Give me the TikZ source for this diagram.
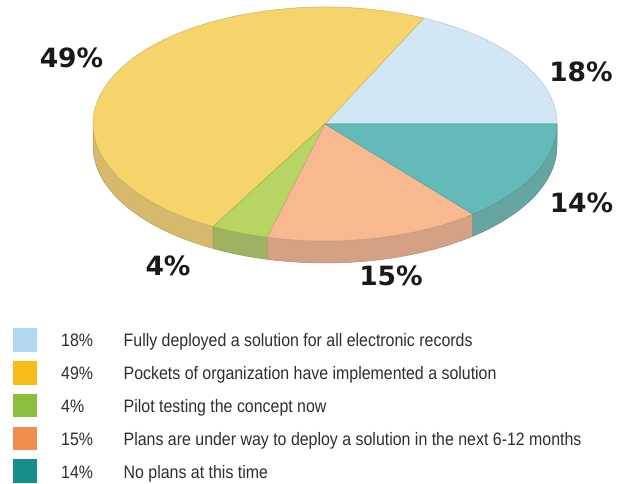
\documentclass[tikz,border=0pt]{standalone}
\usepackage{fontspec}
\usepackage{tikz}
\usetikzlibrary{calc}
\usetikzlibrary{positioning}
\newfontfamily\pctfont{DejaVu Sans}
\newfontfamily\legfont[FakeStretch=0.885]{Liberation Sans}
\definecolor{topblue}{HTML}{D2E7F6}
\definecolor{topyellow}{HTML}{F6D46C}
\definecolor{topgreen}{HTML}{B8D463}
\definecolor{toporange}{HTML}{F8B990}
\definecolor{topteal}{HTML}{63BAB8}
\definecolor{sideyellow}{HTML}{D6B96C}
\definecolor{sidegreen}{HTML}{9EB462}
\definecolor{sideorange}{HTML}{D4A185}
\definecolor{sideteal}{HTML}{67A5A3}
\definecolor{legblue}{HTML}{B0D8F1}
\definecolor{legyellow}{HTML}{F6BD1A}
\definecolor{leggreen}{HTML}{8DBF3E}
\definecolor{legorange}{HTML}{F28C4C}
\definecolor{legteal}{HTML}{178E8A}
\definecolor{legtext}{HTML}{2E2E2E}
\newcommand\pietop[3]{% start, end, colour
  \draw[line width=0.5pt,fill=#3,draw=#3!85!black] (o) -- ($(o)+(#1:232pt and 117pt)$)
    arc[start angle=#1,end angle=#2,x radius=232pt,y radius=117pt] -- cycle;
}
\newcommand\pieside[3]{% start, end, colour
  \draw[line width=0.5pt,fill=#3,draw=#3!85!black] ($(o)+(#1:232pt and 117pt)$)
    arc[start angle=#1,end angle=#2,x radius=232pt,y radius=117pt] -- ++(0,-22pt)
    arc[start angle=#2,end angle=#1,x radius=232pt,y radius=117pt] -- cycle;
}

\begin{document}
\begin{tikzpicture}[x=1pt,y=1pt,
    pct/.style={font=\pctfont\bfseries\fontsize{26.5}{30}\selectfont,text=black!90,inner sep=0pt},
    legbox/.style={minimum width=24pt,minimum height=23.5pt,inner sep=0pt},
    legtxt/.style={font=\legfont\fontsize{18}{20}\selectfont,text=legtext,inner sep=0pt,anchor=base west}]
  \fill[white] (0,0) rectangle (629,483);
  \useasboundingbox (0,0) rectangle (629,483);
  \coordinate (o) at (325,359);
  % sides
  \pieside{180}{241.2}{sideyellow}
  \pieside{241.2}{255.6}{sidegreen}
  \pieside{255.6}{309.6}{sideorange}
  \pieside{309.6}{360}{sideteal}
  % top
  \pietop{0}{64.8}{topblue}
  \pietop{64.8}{241.2}{topyellow}
  \pietop{241.2}{255.6}{topgreen}
  \pietop{255.6}{309.6}{toporange}
  \pietop{309.6}{360}{topteal}
  % labels
  \node[pct] (l49) at (71.5,425.5) {49\%};
  \node[pct] (l18) at (581,411) {18\%};
  \node[pct] (l14) at (581.5,280) {14\%};
  \node[pct] (l15) at (391,207) {15\%};
  \node[pct] (l4) at (168,217) {4\%};
  % legend
  \foreach \c/\p/\t [count=\i] in {legblue/18\%/Fully deployed a solution for all electronic records,
      legyellow/49\%/Pockets of organization have implemented a solution,
      leggreen/4\%/Pilot testing the concept now,
      legorange/15\%/Plans are under way to deploy a solution in the next 6-12 months,
      legteal/14\%/No plans at this time}{
    \node[legbox,fill=\c] (sq\i) at (24.5,{143-32.8*(\i-1)}) {};
    \node[legtxt] (pc\i) at (61,{137-33*(\i-1)}) {\p};
    \node[legtxt] (tx\i) at (123.5,{137-33*(\i-1)}) {\t};
  }
\end{tikzpicture}
\end{document}
